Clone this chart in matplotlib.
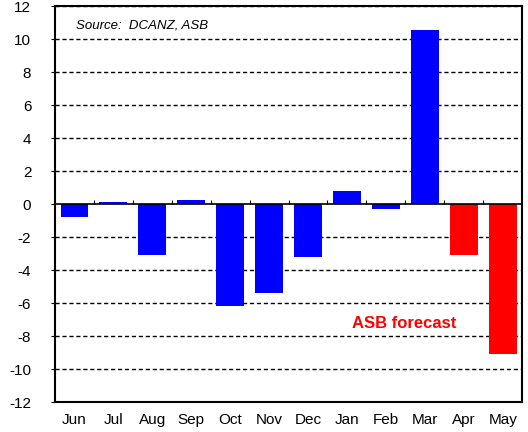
import numpy as np
import matplotlib.pyplot as plt

plt.rcParams['font.family'] = ['Liberation Sans', 'DejaVu Sans']

months = ['Jun', 'Jul', 'Aug', 'Sep', 'Oct', 'Nov', 'Dec', 'Jan', 'Feb', 'Mar', 'Apr', 'May']
values = [-0.8, 0.15, -3.1, 0.25, -6.15, -5.4, -3.2, 0.8, -0.3, 10.55, -3.1, -9.1]
forecast = [False] * 10 + [True] * 2
yticks = list(range(-12, 13, 2))

fig = plt.figure(figsize=(5.28, 4.32), dpi=100)
ax = fig.add_axes([0.104, 0.069, 0.885, 0.917])

x = np.arange(len(months))
colors = ['#ff0000' if f else '#0000ff' for f in forecast]
ax.bar(x, values, width=0.71, color=colors, zorder=3)

for y in yticks:
    if y != 0:
        ax.axhline(y, color='black', lw=1, ls=(0, (3, 2)), zorder=1)
ax.axhline(0, color='black', lw=1.2, zorder=4)
ax.vlines(x[:-1] + 0.5, 0, 0.25, color='black', lw=0.8, zorder=4)

ax.set_xlim(-0.5, len(months) - 0.5)
ax.set_ylim(-12, 12)
ax.set_yticks(yticks)
ax.set_yticklabels([str(t) for t in yticks], fontsize=11)
ax.set_xticks(x)
ax.set_xticklabels(months, fontsize=11)
ax.tick_params(axis='x', length=0, pad=8)
ax.tick_params(axis='y', length=3, pad=14, direction='out')
for lab in ax.get_yticklabels():
    lab.set_horizontalalignment('right')
for s in ax.spines.values():
    s.set_linewidth(1.5)

ax.text(0.045, 0.965, 'Source:  DCANZ, ASB', transform=ax.transAxes,
        fontsize=9.5, style='italic', va='top', ha='left')
ax.text(8.47, -7.25, 'ASB forecast', color='#ff0000', fontsize=12,
        fontweight='bold', ha='center', va='center')

fig.savefig('out.png', dpi=100)
